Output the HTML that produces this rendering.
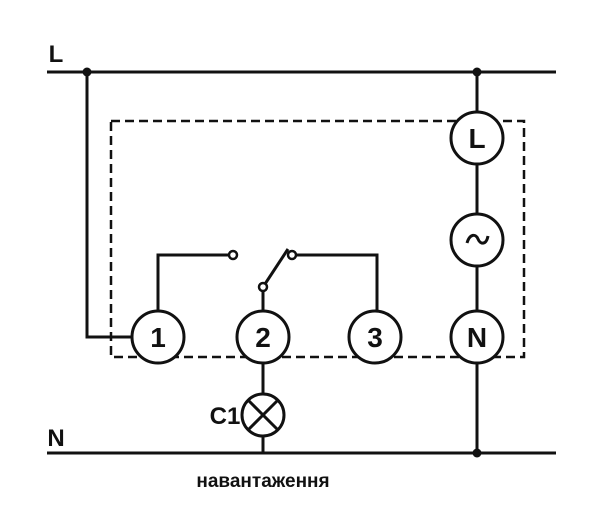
<!DOCTYPE html>
<html><head><style>
html,body{margin:0;padding:0;background:#fff;}
svg{display:block;}
text{font-family:"Liberation Sans Narrow","Liberation Sans",sans-serif;font-weight:bold;fill:#111;}
</style></head><body>
<svg width="600" height="513" viewBox="0 0 600 513" xmlns="http://www.w3.org/2000/svg">
<g stroke="#111" stroke-width="3" fill="none">
<line x1="47" y1="72" x2="556" y2="72"/>
<line x1="47" y1="453" x2="556" y2="453"/>
<rect x="111" y="121" width="413" height="236" stroke-dasharray="9,5" stroke-width="2.5"/>
<polyline points="87,72 87,337 132,337"/>
<line x1="477" y1="72" x2="477" y2="453"/>
<polyline points="158,311 158,255 229,255"/>
<polyline points="296,255 377,255 377,311"/>
<line x1="263" y1="291" x2="263" y2="311"/>
<line x1="265" y1="284" x2="288" y2="249"/>
<line x1="263" y1="363" x2="263" y2="394"/>
<line x1="263" y1="436" x2="263" y2="453"/>
</g>
<g stroke="#111" stroke-width="3" fill="#fff">
<circle cx="158" cy="337" r="26"/>
<circle cx="263" cy="337" r="26"/>
<circle cx="375" cy="337" r="26"/>
<circle cx="477" cy="337" r="26"/>
<circle cx="477" cy="240" r="26"/>
<circle cx="477" cy="138" r="26"/>
<circle cx="263" cy="415" r="21"/>
<circle cx="233" cy="255" r="4" stroke-width="2.5"/>
<circle cx="292" cy="255" r="4" stroke-width="2.5"/>
<circle cx="263" cy="287" r="4" stroke-width="2.5"/>
</g>
<g stroke="#111" stroke-width="3">
<line x1="248" y1="400" x2="278" y2="430"/>
<line x1="278" y1="400" x2="248" y2="430"/>
</g>
<path d="M467 243 C470 233 476 234 478 239 C480 244 486 246 488 236" stroke="#111" stroke-width="3" fill="none"/>
<circle cx="87" cy="72" r="4.5" fill="#111"/>
<circle cx="477" cy="72" r="4.5" fill="#111"/>
<circle cx="477" cy="453" r="4.5" fill="#111"/>
<g font-size="28" text-anchor="middle">
<text x="158" y="347">1</text>
<text x="263" y="347">2</text>
<text x="375" y="347">3</text>
<text x="477" y="347">N</text>
<text x="477" y="148">L</text>
</g>
<text x="56" y="62" font-size="24" text-anchor="middle">L</text>
<text x="56" y="446" font-size="24" text-anchor="middle">N</text>
<text x="225" y="424" font-size="24" text-anchor="middle">C1</text>
<text x="263" y="487" font-size="19" text-anchor="middle">навантаження</text>
</svg>
</body></html>
